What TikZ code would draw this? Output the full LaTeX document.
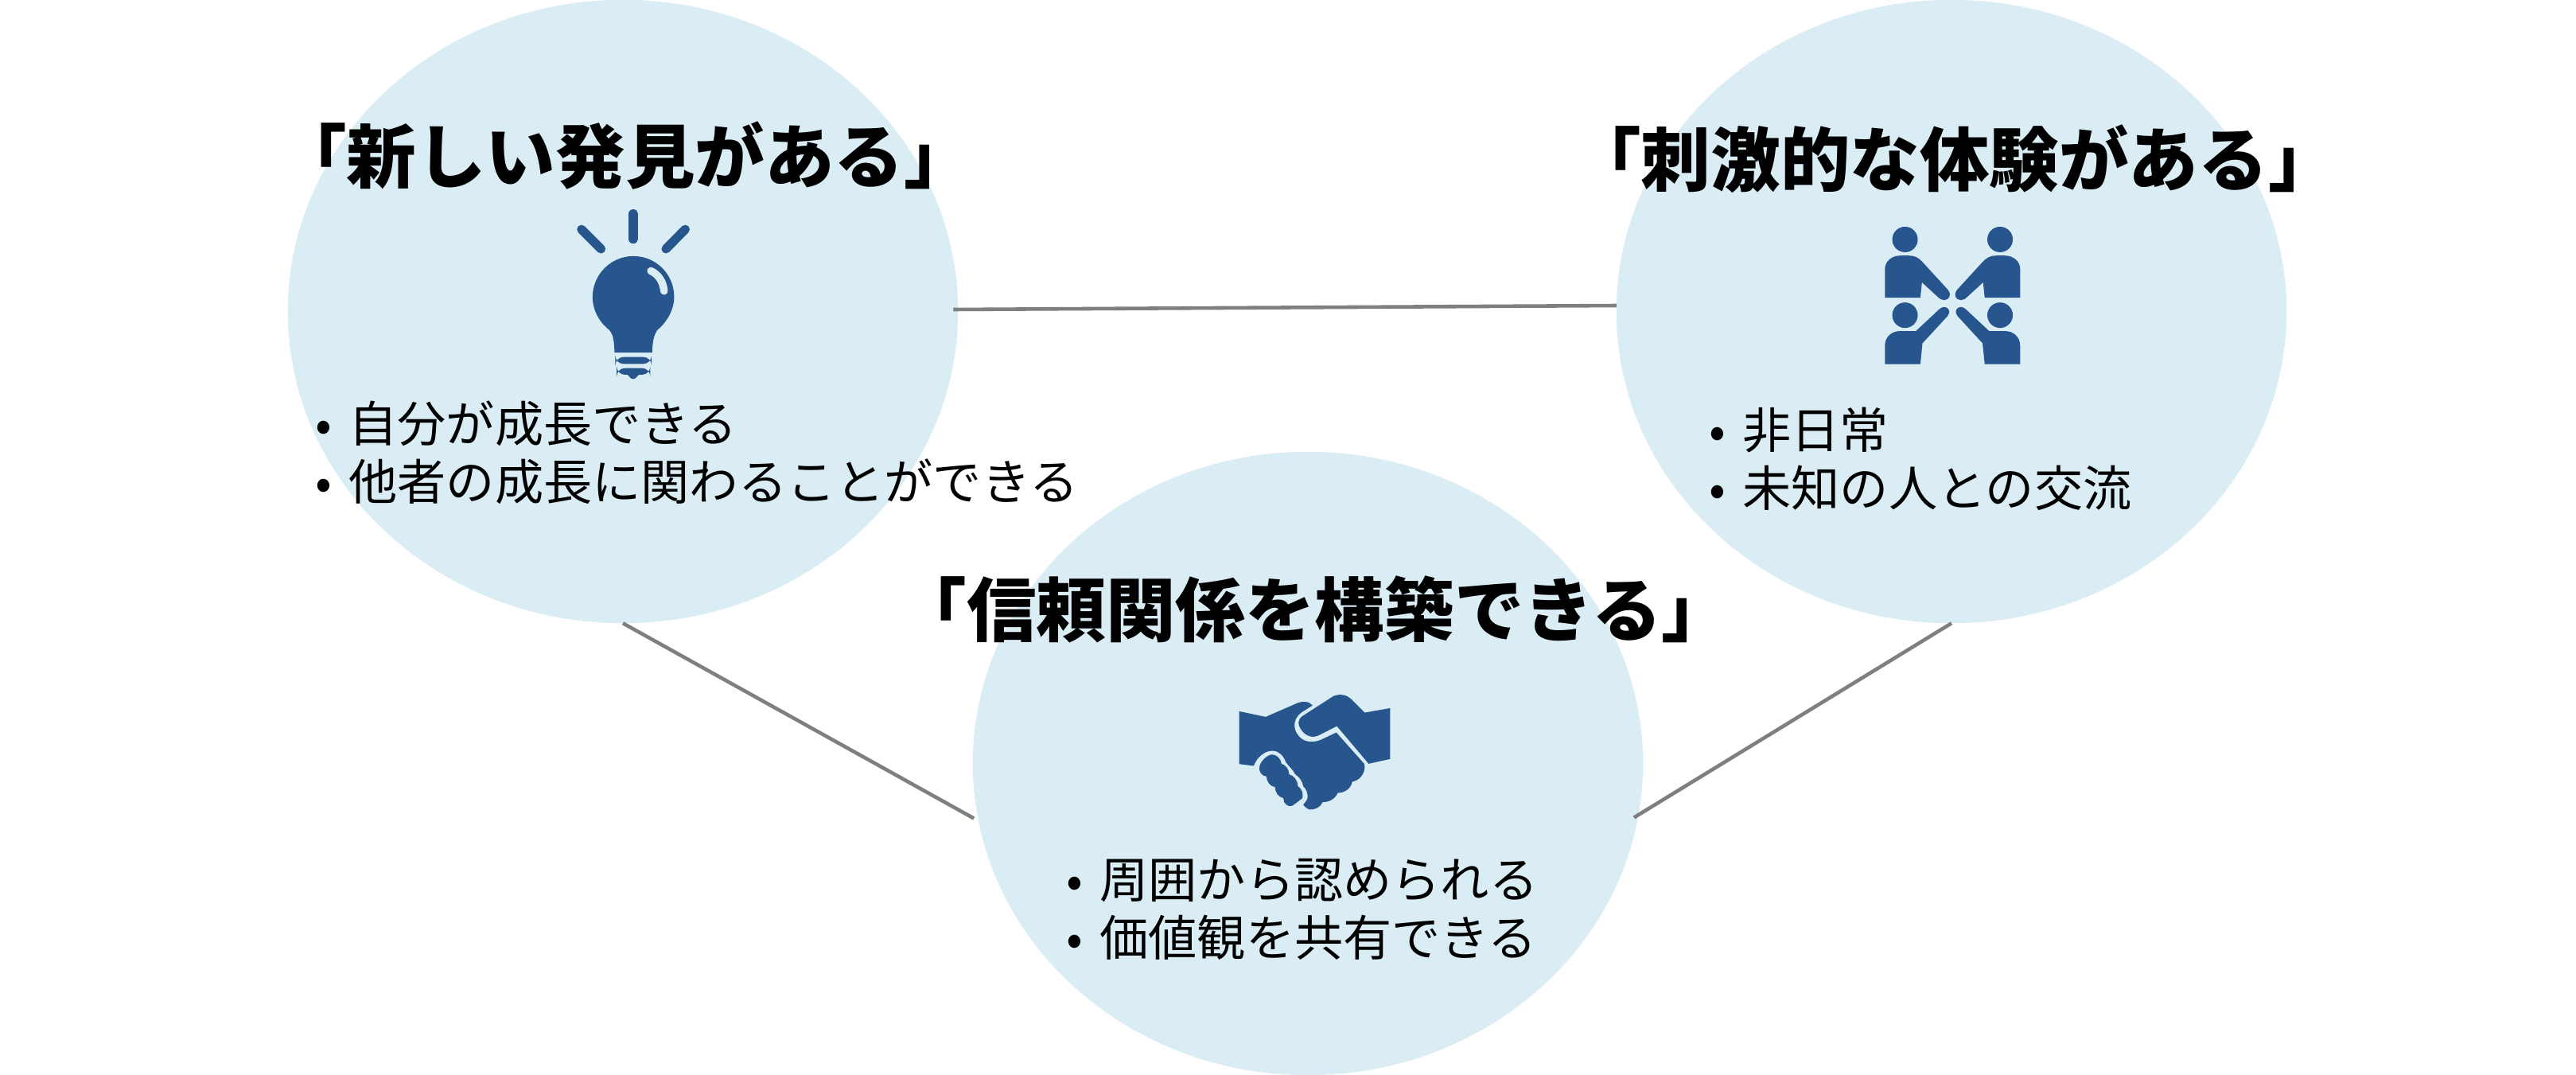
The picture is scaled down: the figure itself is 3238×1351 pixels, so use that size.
\documentclass[tikz,border=0pt]{standalone}
\usepackage{fontspec}
\setmainfont{Noto Sans CJK JP}
\usetikzlibrary{shapes.geometric}
\definecolor{bubble}{HTML}{DAEDF4}
\definecolor{iconblue}{HTML}{27568F}
\definecolor{linkgray}{HTML}{7F7F7F}
\tikzset{
  bubblenode/.style={ellipse,fill=bubble,inner sep=0pt,outer sep=0pt,minimum width=8.42cm,minimum height=7.83cm},
  titletext/.style={font=\fontsize{24.9pt}{28pt}\selectfont\bfseries,text=black,inner sep=0pt},
  listtext/.style={font=\fontsize{17.4pt}{20.8pt}\selectfont,text=black,inner sep=0pt,anchor=west,align=left},
  link/.style={draw=linkgray,line width=1.3pt},
  iconfill/.style={fill=iconblue,draw=none},
  ray/.style={draw=iconblue,line width=3.2pt,line cap=round},
}
\newcommand{\bul}{\makebox[0.685em][l]{•}}
\begin{document}
\begin{tikzpicture}[x=0.01cm,y=-0.01cm]
\useasboundingbox (0,0) rectangle (3238,1351);
\fill[white] (0,0) rectangle (3238,1351);
\node[bubblenode] (a) at (783,391.5) {};
\node[bubblenode] (b) at (2453,391.5) {};
\node[bubblenode] (c) at (1644,959.5) {};
\draw[link] ([shift={(-6,-2.5)}]a.east) -- ([shift={(0,-7.5)}]b.west);
\draw[link] (a.south) -- ([shift={(-6,-4)}]c.190);
\draw[link] (b.south) -- ([shift={(-4,-5)}]c.-10);

\node[titletext] (t1) at (786,196) {「新しい発見がある」};
\node[titletext] (t2) at (2457,200) {「刺激的な体験がある」};
\node[titletext] (t3) at (1652,766) {「信頼関係を構築できる」};

\node[listtext] (l1) at (396,569) {\bul 自分が成長できる\\\bul 他者の成長に関わることができる};
\node[listtext] (l2) at (2148,577) {\bul 非日常\\\bul 未知の人との交流};
\node[listtext] (l3) at (1340,1143) {\bul 周囲から認められる\\\bul 価値観を共有できる};

% light bulb
\begin{scope}[shift={(660,240)},x=0.00333cm,y=-0.00333cm]
  \draw[ray] (409,86) -- (409,182);
  \draw[ray] (213,145) -- (287,219);
  \draw[ray] (605,145) -- (532,219);
  \path[iconfill] (338,610) .. controls (336,570) and (335,545) .. (318,525)
     .. controls (280,495) and (255,450) .. (255,400)
     .. controls (255,315) and (325,246) .. (409,246)
     .. controls (495,246) and (563,315) .. (563,400)
     .. controls (563,450) and (535,495) .. (500,525)
     .. controls (485,545) and (482,570) .. (480,610) -- cycle;
  \draw[draw=bubble,line width=2.7pt,line cap=round] (475,302) .. controls (505,315) and (522,345) .. (525,378);
  \path[iconfill,rounded corners=3pt] (341,627) rectangle (478,653);
  \path[iconfill,rounded corners=3pt] (346,669) rectangle (473,694);
  \path[iconfill] (385,692) .. controls (395,700) and (398,710) .. (408,710) .. controls (418,710) and (422,700) .. (432,692) -- cycle;
\end{scope}

% people
\begin{scope}[shift={(2320,260)},x=0.00333cm,y=-0.00333cm]
  \foreach \hx/\hy in {224/123,583/123,224/409,583/409}{
    \fill[iconblue] (\hx,\hy) circle (0.16cm);
  }
  \path[iconfill] (148,343) -- (148,235) .. controls (148,205) and (175,184) .. (205,184) -- (240,184)
     .. controls (260,184) and (275,192) .. (288,206) -- (388,315)
     .. controls (400,330) and (392,352) .. (372,352) .. controls (362,352) and (355,347) .. (350,342)
     -- (288,285) -- (282,343) -- cycle;
  \path[iconfill] (659,343) -- (659,235) .. controls (659,205) and (632,184) .. (602,184) -- (567,184)
     .. controls (547,184) and (532,192) .. (519,206) -- (419,315)
     .. controls (407,330) and (415,352) .. (435,352) .. controls (445,352) and (452,347) .. (457,342)
     -- (519,285) -- (525,343) -- cycle;
  \path[iconfill] (148,594) -- (148,525) .. controls (148,490) and (175,469) .. (205,469) -- (265,469)
     -- (355,385) .. controls (365,377) and (378,375) .. (387,385) .. controls (395,395) and (390,405) .. (385,412)
     -- (290,515) -- (282,594) -- cycle;
  \path[iconfill] (659,594) -- (659,525) .. controls (659,490) and (632,469) .. (602,469) -- (542,469)
     -- (452,385) .. controls (442,377) and (429,375) .. (420,385) .. controls (412,395) and (417,405) .. (422,412)
     -- (517,515) -- (525,594) -- cycle;
\end{scope}

% handshake
\begin{scope}[shift={(1530,850)},x=0.00333cm,y=-0.00333cm]
  \path[iconfill] (83,132) -- (183,153) -- (305,100) .. controls (325,92) and (350,95) .. (360,110)
     -- (320,135) .. controls (290,155) and (280,195) .. (310,228) .. controls (330,250) and (365,252) .. (395,238)
     -- (450,212) -- (555,330) .. controls (562,350) and (550,390) .. (510,398)
     .. controls (505,425) and (480,440) .. (455,440) .. controls (445,465) and (420,475) .. (398,475)
     .. controls (390,495) and (370,503) .. (350,503) .. controls (338,500) and (330,492) .. (325,485)
     -- (340,465) .. controls (345,440) and (335,425) .. (325,415) .. controls (322,395) and (310,380) .. (295,370)
     .. controls (285,350) and (270,340) .. (260,325) .. controls (250,300) and (235,282) .. (210,281)
     .. controls (180,280) and (150,305) .. (138,338) -- (83,331) -- cycle;
  \path[iconfill] (325,148) -- (440,74) .. controls (465,65) and (490,70) .. (505,85) -- (557,137) -- (653,120)
     -- (653,312) -- (572,330) -- (452,188) -- (385,222)
     .. controls (360,235) and (335,225) .. (320,205) .. controls (300,180) and (305,160) .. (325,148) -- cycle;
  \path[iconfill] (160,340) .. controls (165,320) and (185,300) .. (205,295) .. controls (225,295) and (240,310) .. (243,330)
     .. controls (260,335) and (270,350) .. (272,370) .. controls (290,375) and (305,395) .. (305,415)
     .. controls (320,425) and (325,440) .. (322,460) -- (285,488) .. controls (265,495) and (250,480) .. (250,460)
     .. controls (230,455) and (220,440) .. (218,418) .. controls (200,415) and (188,400) .. (186,378)
     .. controls (170,378) and (155,360) .. (160,340) -- cycle;
\end{scope}
\end{tikzpicture}
\end{document}
